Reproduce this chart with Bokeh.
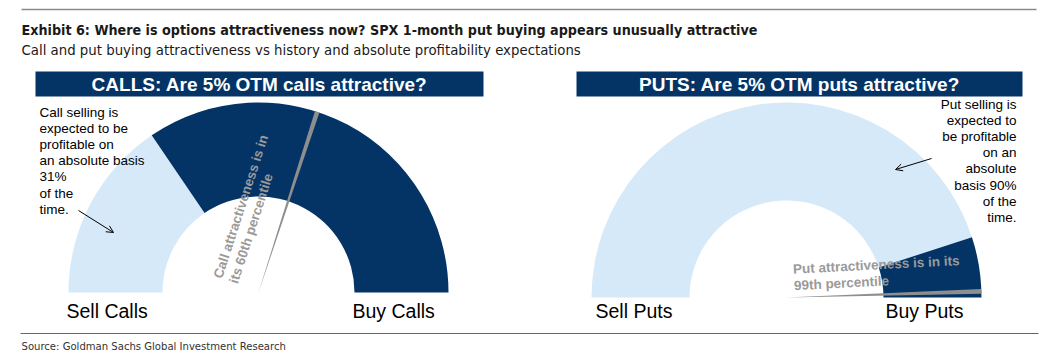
import math
from bokeh.plotting import figure
from bokeh.models import Range1d, Arrow, OpenHead
from bokeh.core.properties import value
from bokeh.embed import file_html
from bokeh.resources import INLINE

# ---------------- data ----------------
title_text = "Exhibit 6: Where is options attractiveness now? SPX 1-month put buying appears unusually attractive"
subtitle_text = "Call and put buying attractiveness vs history and absolute profitability expectations"
source_text = "Source: Goldman Sachs Global Investment Research"

banner_titles = ["CALLS: Are 5% OTM calls attractive?", "PUTS: Are 5% OTM puts attractive?"]
sell_profitable_pct = [31, 90]      # % of time selling is expected to be profitable (light segment)
attractiveness_pct = [60, 99]       # buying attractiveness percentile (needle)
sell_labels = ["Sell Calls", "Sell Puts"]
buy_labels = ["Buy Calls", "Buy Puts"]
note_texts = [
    "Call selling is\nexpected to be\nprofitable on\nan absolute basis\n31%\nof the\ntime.",
    "Put selling is\nexpected to\nbe profitable\non an\nabsolute\nbasis 90%\nof the\ntime.",
]
needle_texts = [
    "Call attractiveness is in\nits 60th percentile",
    "Put attractiveness is in its\n99th percentile",
]

# ---------------- layout ----------------
W, H = 1046, 352
NAVY = "#043466"
LIGHT = "#D6E9F9"
NEEDLE = "#8E8E8E"
FONT = value("Liberation Sans")
NARROW = value("DejaVu Sans Condensed, Liberation Sans")


def Y(ys):
    return H - ys


cx = [258, 786]
cy = [Y(292), Y(297)]
r_out = [190, 195]
r_in = [96, 97]
banner_x = [(35, 483), (576, 1022)]
sell_x = [66, 595]
buy_x = [352, 885]

p = figure(width=W, height=H, x_range=Range1d(0, W), y_range=Range1d(0, H),
           output_backend="svg", toolbar_location=None,
           x_axis_type=None, y_axis_type=None, min_border=0)
p.outline_line_color = None
p.background_fill_color = "white"
p.border_fill_color = "white"
p.grid.visible = False

# header / footer rules
p.line([21, 1036], [Y(9), Y(9)], line_color="#8a8a8a", line_width=1.6)
p.line([20, 1038], [Y(333), Y(333)], line_color="#666666", line_width=1)

p.text([21], [Y(29)], text=[title_text], text_font=NARROW, text_font_style="bold",
       text_font_size="14.2px", text_color="#1a1a1a", text_baseline="middle")
p.text([21], [Y(49)], text=[subtitle_text], text_font=NARROW,
       text_font_size="14.8px", text_color="#1a1a1a", text_baseline="middle")
p.text([21], [Y(346)], text=[source_text], text_font=NARROW,
       text_font_size="11.2px", text_color="#333333", text_baseline="middle")

for i in range(2):
    # banner
    x0, x1 = banner_x[i]
    p.quad(left=[x0], right=[x1], bottom=[Y(96)], top=[Y(71)],
           fill_color=NAVY, line_color=None)
    p.text([(x0 + x1) / 2], [Y(83.5)], text=[banner_titles[i]], text_font=FONT,
           text_font_style="bold", text_font_size="19px", text_color="white",
           text_align="center", text_baseline="middle")

    # gauge segments
    split = math.pi * (1 - sell_profitable_pct[i] / 100.0)
    p.annular_wedge([cx[i]], [cy[i]], inner_radius=r_in[i], outer_radius=r_out[i],
                    start_angle=split, end_angle=math.pi,
                    fill_color=LIGHT, line_color=None)
    p.annular_wedge([cx[i]], [cy[i]], inner_radius=r_in[i], outer_radius=r_out[i],
                    start_angle=0, end_angle=split,
                    fill_color=NAVY, line_color=None)

    # needle
    na = math.pi * (1 - attractiveness_pct[i] / 100.0)
    half = 0.7 * math.pi / 180
    p.wedge([cx[i]], [cy[i]], radius=r_out[i], start_angle=na - half, end_angle=na + half,
            fill_color=NEEDLE, line_color=None)

    # sell / buy labels
    p.text([sell_x[i]], [Y(310)], text=[sell_labels[i]], text_font=FONT,
           text_font_size="19.5px", text_color="black", text_baseline="middle")
    p.text([buy_x[i]], [Y(310)], text=[buy_labels[i]], text_font=FONT,
           text_font_size="19.5px", text_color="black", text_baseline="middle")

# notes
p.text([39], [Y(104)], text=[note_texts[0]], text_font=FONT, text_font_size="13.5px",
       text_color="black", text_baseline="top", text_line_height=1.08)
p.text([1016], [Y(96)], text=[note_texts[1]], text_font=FONT, text_font_size="13.5px",
       text_color="black", text_baseline="top", text_align="right", text_line_height=1.08)

p.add_layout(Arrow(end=OpenHead(size=7, line_width=1, line_color="black"),
                   x_start=78, y_start=Y(210), x_end=113, y_end=Y(232),
                   line_width=1, line_color="black"))
p.add_layout(Arrow(end=OpenHead(size=7, line_width=1, line_color="black"),
                   x_start=931, y_start=Y(158), x_end=895, y_end=Y(169),
                   line_width=1, line_color="black"))

# needle captions
p.text([225], [Y(280)], text=[needle_texts[0]], text_font=FONT, text_font_style="bold",
       text_font_size="13.5px", text_color="#9a9a9a", text_baseline="middle",
       angle=72, angle_units="deg", text_line_height=1.1)
p.text([793], [Y(277)], text=[needle_texts[1]], text_font=FONT, text_font_style="bold",
       text_font_size="13.5px", text_color="#9a9a9a", text_baseline="middle",
       angle=3, angle_units="deg", text_line_height=1.1)

open("out.html", "w").write(file_html(p, INLINE))
